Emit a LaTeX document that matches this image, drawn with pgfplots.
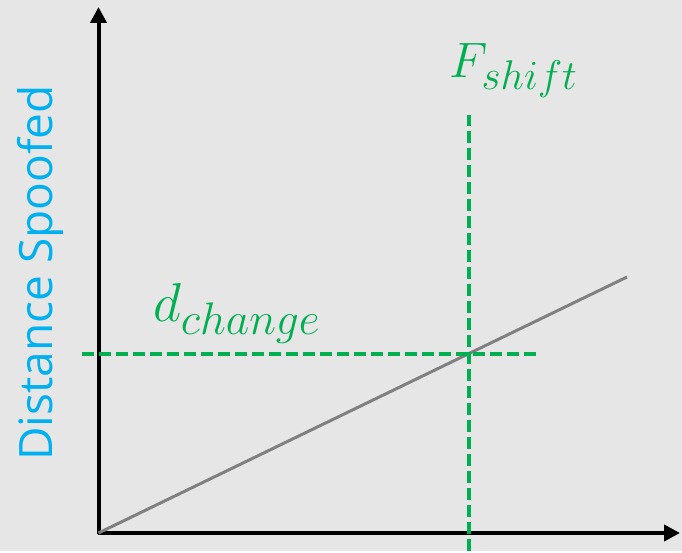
\documentclass[border=0pt]{standalone}
\usepackage{pgfplots}
\pgfplotsset{compat=1.18}
\usepackage{fontspec}
\setmainfont{Open Sans}
\usetikzlibrary{arrows.meta}
\DeclareMathSizes{25}{26}{21}{16}
\definecolor{bg}{HTML}{E7E6E6}
\definecolor{grn}{HTML}{00B050}
\definecolor{cyn}{HTML}{00B0F0}
\definecolor{gry}{HTML}{808080}
\begin{document}
\begin{tikzpicture}
\begin{axis}[
  scale only axis, width=341pt, height=275.5pt,
  xmin=-98.5, xmax=583.5, ymin=-18, ymax=533,
  hide axis, clip=false,
]
% background
\addplot[fill=bg, draw=none] coordinates {(-98.5,-18) (583.5,-18) (583.5,533) (-98.5,533)} -- cycle;
% axes
\addplot[black, line width=2pt, -{Triangle[length=8pt,width=8pt]}] coordinates {(-1,0) (581.5,0)};
\addplot[black, line width=2pt, -{Triangle[length=8pt,width=8pt]}] coordinates {(0,-1) (0,526)};
% grey line
\addplot[gry, line width=1.5pt] coordinates {(0,0) (528.5,256)};
% green dashed lines
\addplot[grn, line width=2pt, dash pattern=on 6pt off 2.5pt] coordinates {(-16.5,179) (438.5,179)};
\addplot[grn, line width=2pt, dash pattern=on 6pt off 2.5pt] coordinates {(370.5,-18) (370.5,418)};
% labels
\node[anchor=base, text=grn, font=\fontsize{25}{30}\selectfont, inner sep=0pt] at (axis cs:415.5,455) {$F_{shift}$};
\node[anchor=base, text=grn, font=\fontsize{25}{30}\selectfont, inner sep=0pt] at (axis cs:138.5,211) {\scalebox{1.1}{$d_{change}$}};
\node[anchor=base, rotate=90, text=cyn, font=\fontsize{23}{27}\selectfont, inner sep=0pt] at (axis cs:-45.5,260) {Distance Spoofed};
\end{axis}
\end{tikzpicture}
\end{document}
